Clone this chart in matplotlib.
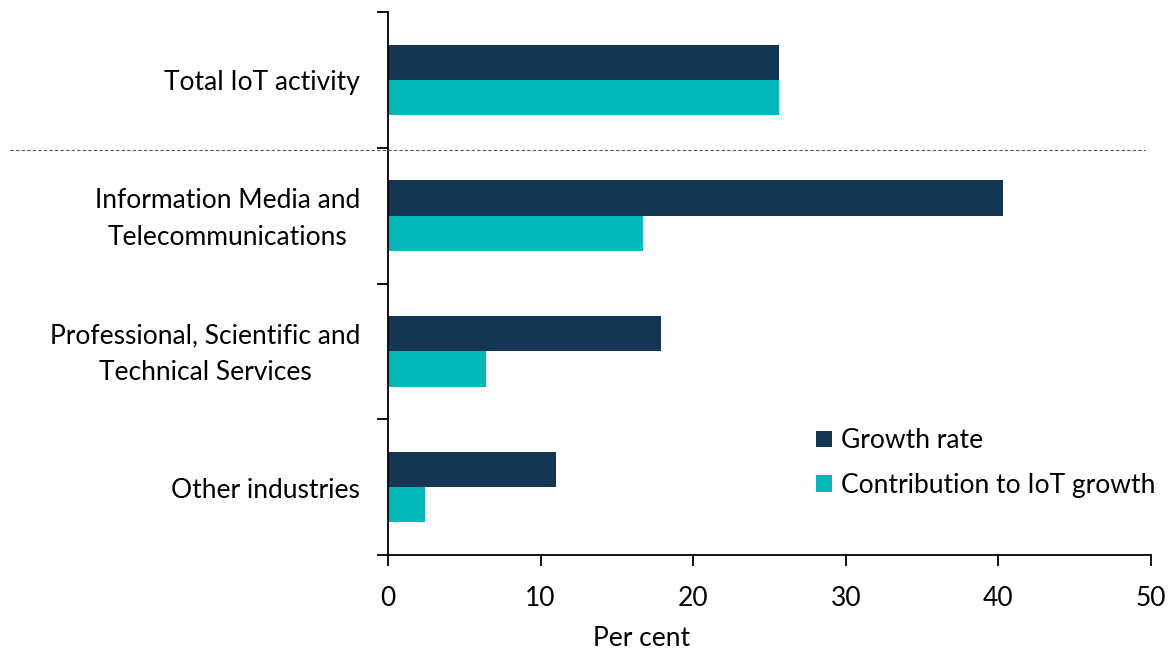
import matplotlib
matplotlib.use("Agg")
import matplotlib.pyplot as plt
import matplotlib.transforms as mtransforms
import numpy as np
from matplotlib.lines import Line2D

categories = [
    "Total IoT activity",
    "Information Media and\nTelecommunications",
    "Professional, Scientific and\nTechnical Services",
    "Other industries",
]
growth_rate = [25.6, 40.3, 17.9, 11.0]
contribution = [25.6, 16.7, 6.4, 2.45]
series_names = ["Growth rate", "Contribution to IoT growth"]
xticks = [0, 10, 20, 30, 40, 50]

NAVY = "#143652"
TEAL = "#00B8BA"
FONT = "Lato"
FS = 19

plt.rcParams["font.family"] = [FONT, "DejaVu Sans"]

fig = plt.figure(figsize=(11.72, 6.49), dpi=100)
ax = fig.add_axes([388 / 1172, 1 - 555 / 649, (1151 - 388) / 1172, (555 - 12) / 649])

y = np.arange(len(categories))
h = 0.26
ax.barh(y - h / 2, growth_rate, height=h, color=NAVY, label=series_names[0])
ax.barh(y + h / 2, contribution, height=h, color=TEAL, label=series_names[1])

ax.set_ylim(len(categories) - 0.5, -0.5)
ax.set_xlim(0, 50)
ax.set_xticks(xticks)
ax.set_xticklabels([str(t) for t in xticks], fontsize=FS)

# category boundaries carry the y ticks; names sit at the centres
ax.set_yticks(np.arange(len(categories) + 1) - 0.5)
ax.set_yticklabels([])
label_tf = ax.get_yaxis_transform() + mtransforms.ScaledTranslation(
    0, -3 / 100, fig.dpi_scale_trans)
for yi, name in zip(y, categories):
    ax.text(-0.0365, yi, name, transform=label_tf,
            ha="right", va="center", multialignment="center",
            fontsize=FS, linespacing=1.6, color="#000000")

for side in ("top", "right"):
    ax.spines[side].set_visible(False)
for side in ("left", "bottom"):
    ax.spines[side].set_linewidth(1.3)
ax.tick_params(axis="both", direction="out", length=8, width=1.3, color="black")
ax.tick_params(axis="x", pad=14)

# dashed separator between the total and the industry breakdown
sep_y = 0.52
line = Line2D([10 / 1172, 1145 / 1172], [0, 0], transform=fig.transFigure,
              linestyle=(0, (3, 2)), linewidth=0.8, color="#555555")
yfig = fig.transFigure.inverted().transform(ax.transData.transform((0, sep_y)))[1]
line.set_ydata([yfig, yfig])
fig.add_artist(line)

fig.text(642 / 1172, 1 - 638 / 649, "Per cent", ha="center", va="center", fontsize=FS)

ax.legend(loc="upper left", bbox_to_anchor=(803 / 1172, 1 - 415 / 649),
          bbox_transform=fig.transFigure, frameon=False, fontsize=FS,
          handlelength=0.6, handleheight=0.6, handletextpad=0.35,
          labelspacing=0.75, borderpad=0)

fig.savefig("out.png", dpi=100)
